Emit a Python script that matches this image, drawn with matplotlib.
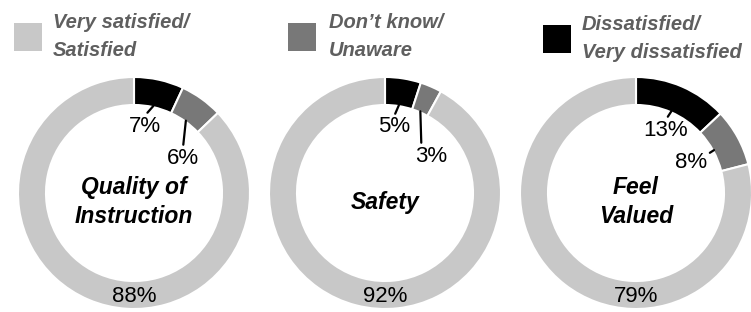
import numpy as np
import matplotlib
matplotlib.use("Agg")
import matplotlib.pyplot as plt

# valores (%): insatisfeito, não sabe, satisfeito
temas = ["Quality of\nInstruction", "Safety", "Feel\nValued"]
insatisfeito = [7, 5, 13]
nao_sabe = [6, 3, 8]
satisfeito = [88, 92, 79]

categorias = ["Very satisfied/\nSatisfied", "Don\u2019t know/\nUnaware", "Dissatisfied/\nVery dissatisfied"]

CORES = {"sat": "#c8c8c8", "dk": "#787878", "dis": "#000000"}
FONTE = ["Liberation Sans", "DejaVu Sans"]

W, H = 751, 312
fig = plt.figure(figsize=(W / 100, H / 100), dpi=100)
ax = fig.add_axes([0, 0, 1, 1])

centros_x = [134, 385, 636]
cy = H - 193
R, LARG = 116, 28
r_in = R - LARG

# posição dos rótulos pequenos relativa ao centro (px, y para baixo)
off_rotulos = [[(11, -67, (0.5, 1)), (49, -35, (0.5, 1))],
               [(9, -66, (0.5, 1)), (46, -37, (0.2, 1))],
               [(30, -63, (0.5, 1)), (55, -30, (1.0, 0.9))]]

for i, cx in enumerate(centros_x):
    vals = [insatisfeito[i], nao_sabe[i], satisfeito[i]]
    ax.pie(vals, colors=[CORES["dis"], CORES["dk"], CORES["sat"]],
           startangle=90, counterclock=False, center=(cx, cy), radius=R,
           wedgeprops=dict(width=LARG, edgecolor="white", linewidth=1.5))
    total = sum(vals)
    acum = 0
    for j in range(2):
        ang = np.deg2rad(90 - 360 * (acum + vals[j] / 2) / total)
        acum += vals[j]
        px, py = cx + (r_in + 1) * np.cos(ang), cy + (r_in + 1) * np.sin(ang)
        dx, dy, rel = off_rotulos[i][j]
        ax.annotate(f"{vals[j]}%", xy=(px, py), xytext=(cx + dx, cy - dy),
                    ha="center", va="center", fontsize=16, family=FONTE,
                    arrowprops=dict(arrowstyle="-", color="black", lw=1.6,
                                    shrinkA=0, shrinkB=0, relpos=rel))
    ax.text(cx, cy - 104, f"{satisfeito[i]}%", ha="center", va="center",
            fontsize=16, family=FONTE)
    ax.text(cx, cy - 9, temas[i], ha="center", va="center", fontsize=16.5,
            family=FONTE, fontweight="bold", style="italic", linespacing=1.35)

# legenda
leg_x = [(14, 53), (288, 329), (543, 582)]
leg_y = [23, 23, 25]
for (qx, tx), qy, cat, cor in zip(leg_x, leg_y, categorias, [CORES["sat"], CORES["dk"], CORES["dis"]]):
    ax.add_patch(plt.Rectangle((qx, H - qy - 28), 28, 28, color=cor, lw=0))
    ax.text(tx, H - qy - 14, cat, ha="left", va="center", fontsize=14.5,
            family=FONTE, fontweight="bold", style="italic", color="#5f5f5f",
            linespacing=1.6)

ax.set_xlim(0, W)
ax.set_ylim(0, H)
ax.axis("off")
fig.savefig("out.png", dpi=100)
